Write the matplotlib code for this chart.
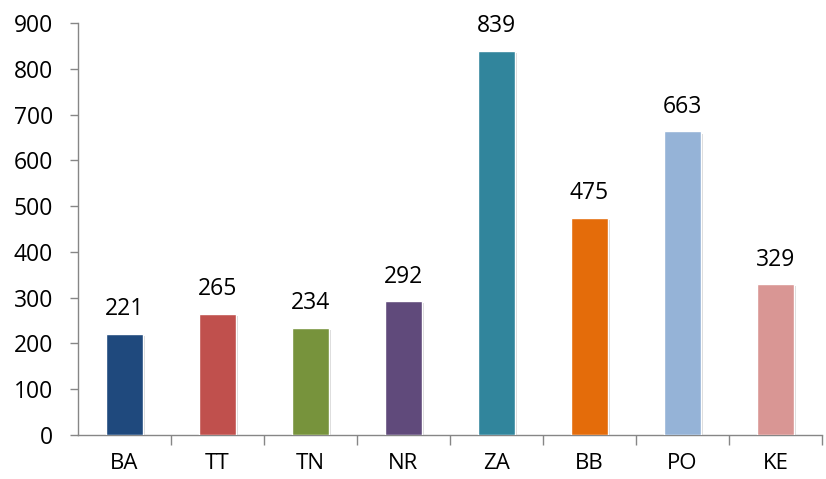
import matplotlib.pyplot as plt
import matplotlib.patheffects as pe
from matplotlib.ticker import FixedLocator

plt.rcParams['font.family'] = ['Open Sans', 'DejaVu Sans']

categories = ['BA', 'TT', 'TN', 'NR', 'ZA', 'BB', 'PO', 'KE']
values = [221, 265, 234, 292, 839, 475, 663, 329]
colors = ['#1F497D', '#C0504D', '#77933C', '#604A7B',
          '#31859C', '#E46C0A', '#95B3D7', '#D99694']

fig = plt.figure(figsize=(8.26, 4.79), dpi=100)
ax = fig.add_axes([0.0944, 0.0919, 0.9006, 0.8601])

x = list(range(len(categories)))
bars = ax.bar(x, values, width=0.39, color=colors, edgecolor='white', linewidth=1.0, zorder=3)
for b in bars:
    b.set_path_effects([pe.SimplePatchShadow(offset=(1.5, -1.5), shadow_rgbFace='#b0b0b0', alpha=0.5),
                        pe.Normal()])

for xi, v in zip(x, values):
    ax.annotate(str(v), (xi, v), xytext=(0, 13.5), textcoords='offset points',
                ha='center', va='baseline', fontsize=16.5, color='black')

ax.set_xlim(-0.5, len(categories) - 0.5)
ax.set_ylim(0, 900)
ax.set_yticks(range(0, 901, 100))
ax.tick_params(axis='y', labelsize=16.5, length=6, width=1, color='#868686', pad=12)

ax.set_xticks(x)
ax.set_xticklabels(categories)
ax.tick_params(axis='x', which='major', length=0, labelsize=16, pad=13)
ax.xaxis.set_minor_locator(FixedLocator([i + 0.5 for i in range(len(categories))]))
ax.tick_params(axis='x', which='minor', length=7, width=1, color='#868686', direction='out')

for s in ['top', 'right']:
    ax.spines[s].set_visible(False)
for s in ['left', 'bottom']:
    ax.spines[s].set_color('#868686')
    ax.spines[s].set_linewidth(1)

fig.savefig('out.png', dpi=100)
